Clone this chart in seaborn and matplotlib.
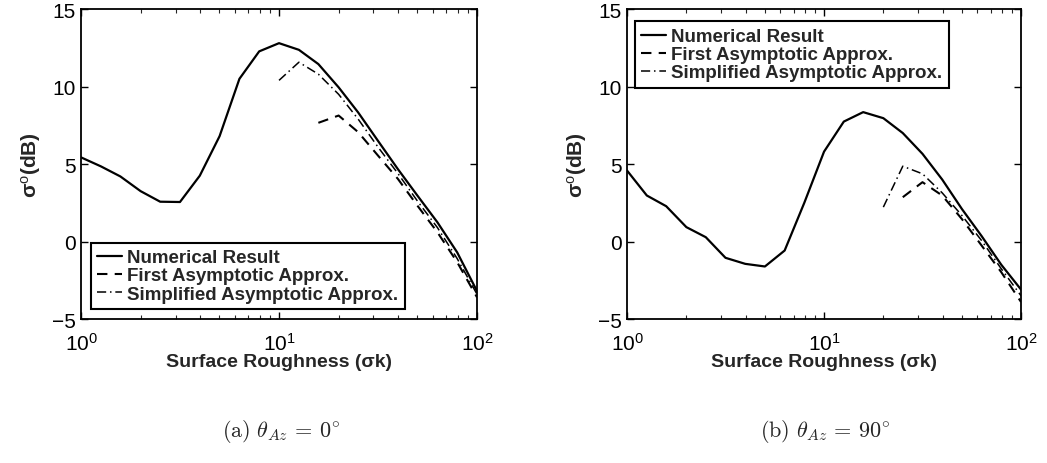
import numpy as np
import pandas as pd
import matplotlib
matplotlib.use("Agg")
import matplotlib.pyplot as plt
import seaborn as sns
from matplotlib.ticker import LogLocator, LogFormatterMathtext, NullFormatter

# ---------------- data ----------------
roughness = [1.0, 1.26, 1.58, 2.0, 2.51, 3.16, 3.98, 5.01, 6.31, 7.94, 10.0,
             12.6, 15.8, 20.0, 25.1, 31.6, 39.8, 50.1, 63.1, 79.4, 100.0]

# (a) azimuth 0 deg
num_a = [5.43, 4.85, 4.2, 3.25, 2.57, 2.55, 4.25, 6.8, 10.5, 12.27, 12.8,
         12.37, 11.45, 9.95, 8.33, 6.5, 4.68, 2.95, 1.24, -0.7, -3.2]
first_x_a = [15.8, 20.0, 25.1, 31.6, 39.8, 50.1, 63.1, 79.4, 100.0]
first_a = [7.66, 8.13, 7.06, 5.55, 4.05, 2.3, 0.6, -1.33, -3.6]
simp_x_a = [10.0, 12.6, 15.8, 20.0, 25.1, 31.6, 39.8, 50.1, 63.1, 79.4, 100.0]
simp_a = [10.4, 11.57, 10.8, 9.5, 7.9, 6.1, 4.4, 2.6, 0.9, -1.1, -3.4]

# (b) azimuth 90 deg
num_b = [4.58, 2.97, 2.28, 0.93, 0.28, -1.05, -1.44, -1.61, -0.58, 2.5, 5.8,
         7.74, 8.35, 7.96, 7.0, 5.66, 4.0, 2.1, 0.35, -1.5, -3.1]
first_x_b = [25.1, 31.6, 39.8, 50.1, 63.1, 79.4, 100.0]
first_b = [2.86, 3.83, 2.97, 1.45, -0.26, -1.98, -3.9]
simp_x_b = [20.0, 25.1, 31.6, 39.8, 50.1, 63.1, 79.4, 100.0]
simp_b = [2.22, 4.86, 4.37, 3.14, 1.68, 0.06, -1.76, -3.5]

labels = ["Numerical Result", "First Asymptotic Approx.", "Simplified Asymptotic Approx."]
captions = [r"$\mathrm{(a)}\ \theta_{Az}\,=\,0^{\circ}$", r"$\mathrm{(b)}\ \theta_{Az}\,=\,90^{\circ}$"]

# ---------------- style ----------------
sns.set_style("ticks")
plt.rcParams["font.family"] = ["Liberation Sans", "DejaVu Sans"]
plt.rcParams["mathtext.fontset"] = "custom"
plt.rcParams["mathtext.rm"] = "Liberation Sans"
plt.rcParams["mathtext.it"] = "Liberation Sans:italic"
plt.rcParams["mathtext.bf"] = "Liberation Sans:bold"
plt.rcParams["xtick.direction"] = "in"
plt.rcParams["ytick.direction"] = "in"

fig = plt.figure(figsize=(10.47, 4.64), dpi=100)
ax_a = fig.add_axes([0.0774, 0.3103, 0.3782, 0.668])
ax_b = fig.add_axes([0.5989, 0.3103, 0.3763, 0.668])

def draw(ax, num, fx, fy, sx, sy, loc, anchor, caption, cx):
    df_num = pd.DataFrame({"x": roughness, "y": num})
    df_f = pd.DataFrame({"x": fx, "y": fy})
    df_s = pd.DataFrame({"x": sx, "y": sy})
    sns.lineplot(data=df_num, x="x", y="y", ax=ax, color="black", lw=1.6,
                 label=labels[0], sort=False)
    sns.lineplot(data=df_f, x="x", y="y", ax=ax, color="black", lw=1.5,
                 label=labels[1], sort=False, linestyle=(0, (5, 3.5)))
    sns.lineplot(data=df_s, x="x", y="y", ax=ax, color="black", lw=1.1,
                 label=labels[2], sort=False, linestyle=(0, (6, 2.5, 1, 2.5)))
    ax.set_xscale("log")
    ax.set_xlim(1, 100)
    ax.set_ylim(-5, 15)
    ax.set_yticks([-5, 0, 5, 10, 15])
    ax.xaxis.set_major_locator(LogLocator(base=10, numticks=5))
    ax.xaxis.set_major_formatter(LogFormatterMathtext())
    ax.xaxis.set_minor_locator(LogLocator(base=10, subs=np.arange(2, 10), numticks=20))
    ax.xaxis.set_minor_formatter(NullFormatter())
    ax.tick_params(axis="both", which="major", direction="in", length=5, width=1,
                   top=True, right=True, labelsize=15, colors="black", pad=4)
    ax.tick_params(axis="x", which="major", pad=9)
    ax.tick_params(axis="x", which="minor", direction="in", length=3, width=0.8,
                   top=True, bottom=True)
    for s in ax.spines.values():
        s.set_visible(True)
        s.set_linewidth(1.3)
        s.set_color("black")
    ax.set_xlabel("Surface Roughness (σk)", fontsize=14, fontweight="bold", labelpad=0)
    ax.set_ylabel("σ$^{\\mathrm{o}}$(dB)", fontsize=15, fontweight="bold", labelpad=6)
    leg = ax.legend(loc=loc, bbox_to_anchor=anchor, frameon=True,
                    fancybox=False, edgecolor="black", handlelength=1.3,
                    handletextpad=0.3, labelspacing=0.05, borderpad=0.35,
                    borderaxespad=0.0, prop={"weight": "bold", "size": 13.5})
    leg.get_frame().set_linewidth(1.5)
    leg.get_frame().set_alpha(1)
    fig.text(cx, 0.07, caption, ha="center", va="center", fontsize=16,
             math_fontfamily="cm")

draw(ax_a, num_a, first_x_a, first_a, simp_x_a, simp_a,
     "lower left", (0.025, 0.032), captions[0], 0.268)
draw(ax_b, num_b, first_x_b, first_b, simp_x_b, simp_b,
     "upper left", (0.02, 0.96), captions[1], 0.788)

fig.savefig("out.png", dpi=100, facecolor="white")
